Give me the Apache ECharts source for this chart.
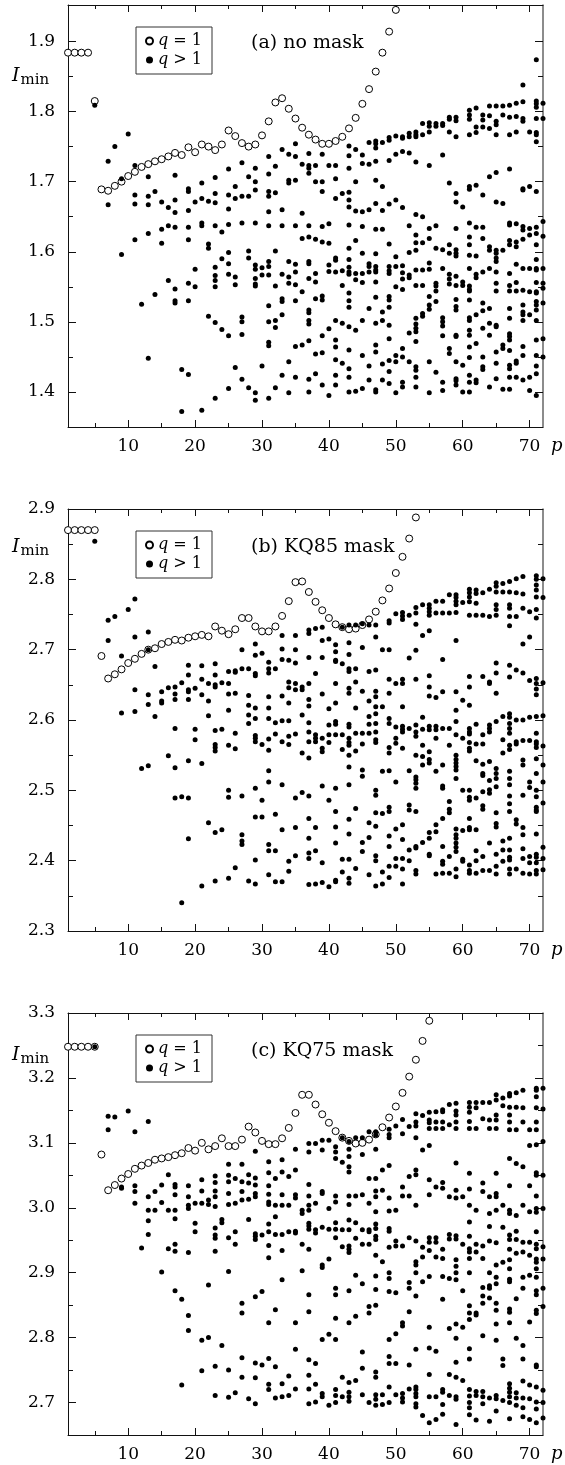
<!DOCTYPE html>
<html>
<head>
<meta charset="utf-8">
<script src="https://cdn.jsdelivr.net/npm/echarts@6.0.0/dist/echarts.min.js"></script>
<style>
html,body{margin:0;padding:0;background:#fff;}
#chart{width:565px;height:1465px;}
</style>
</head>
<body>
<div id="chart"></div>
<script>
// ---------------- data ----------------
const xMajorTicks = [10, 20, 30, 40, 50, 60, 70];
const xMinorTicks = [5, 15, 25, 35, 45, 55, 65];
const yMajorA = [1.4, 1.5, 1.6, 1.7, 1.8, 1.9];
const yMinorA = [1.45, 1.55, 1.65, 1.75, 1.85];
const yMajorB = [2.3, 2.4, 2.5, 2.6, 2.7, 2.8, 2.9];
const yMinorB = [2.35, 2.45, 2.55, 2.65, 2.75, 2.85];
const yMajorC = [2.7, 2.8, 2.9, 3.0, 3.1, 3.2, 3.3];
const yMinorC = [2.75, 2.85, 2.95, 3.05, 3.15, 3.25];
const panelTitles = ['(a) no mask', '(b) KQ85 mask', '(c) KQ75 mask'];
const seriesNames = ['q = 1', 'q > 1'];

// q = 1 values, p = 1, 2, 3, ...
const qOneA = [1.884,1.884,1.884,1.884,1.815,1.689,1.687,1.694,1.700,1.708,1.714,1.721,1.725,1.729,1.732,1.736,1.741,1.738,1.749,1.742,1.753,1.750,1.745,1.753,1.773,1.765,1.755,1.750,1.753,1.766,1.786,1.813,1.819,1.804,1.790,1.777,1.767,1.760,1.754,1.754,1.758,1.764,1.776,1.791,1.811,1.832,1.857,1.884,1.914,1.945];
const qOneB = [2.870,2.870,2.870,2.870,2.870,2.691,2.659,2.665,2.672,2.681,2.687,2.694,2.700,2.702,2.708,2.711,2.714,2.713,2.717,2.719,2.721,2.719,2.733,2.727,2.722,2.729,2.745,2.745,2.733,2.726,2.726,2.733,2.748,2.769,2.796,2.797,2.782,2.768,2.756,2.745,2.736,2.732,2.729,2.730,2.735,2.743,2.754,2.770,2.787,2.809,2.832,2.858,2.888];
const qOneC = [3.248,3.248,3.248,3.248,3.248,3.082,3.027,3.035,3.045,3.052,3.060,3.065,3.069,3.074,3.076,3.078,3.081,3.084,3.092,3.088,3.100,3.090,3.095,3.107,3.095,3.095,3.105,3.125,3.116,3.103,3.098,3.098,3.107,3.123,3.146,3.174,3.174,3.159,3.144,3.131,3.118,3.108,3.103,3.099,3.100,3.105,3.113,3.124,3.139,3.156,3.177,3.202,3.228,3.257,3.288];

// q > 1 values: [p, [I_min values]]
const multiA = [
[5,[1.809]],[7,[1.729,1.667]],[8,[1.750]],[9,[1.704,1.596]],[10,[1.768]],
[11,[1.723,1.681,1.668,1.617]],[12,[1.525]],[13,[1.707,1.679,1.667,1.626,1.448]],[14,[1.686,1.539]],
[15,[1.671,1.632,1.612]],[16,[1.663,1.637,1.559]],[17,[1.709,1.674,1.656,1.635,1.547,1.530,1.527]],
[18,[1.432,1.372]],[19,[1.690,1.686,1.659,1.635,1.617,1.555,1.530,1.425]],[20,[1.671,1.575,1.550]],
[21,[1.698,1.676,1.641,1.637,1.374]],[22,[1.672,1.611,1.605,1.508]],
[23,[1.706,1.683,1.670,1.637,1.578,1.566,1.559,1.550,1.499,1.391]],[24,[1.628,1.590,1.489]],
[25,[1.718,1.681,1.661,1.639,1.599,1.583,1.568,1.480,1.405]],[26,[1.693,1.676,1.564,1.553,1.435]],
[27,[1.727,1.679,1.641,1.507,1.500,1.482,1.418]],[28,[1.707,1.679,1.601,1.591,1.406]],
[29,[1.719,1.700,1.688,1.641,1.581,1.575,1.562,1.554,1.551,1.399,1.388]],[30,[1.577,1.567,1.437]],
[31,[1.736,1.711,1.686,1.679,1.657,1.637,1.586,1.579,1.567,1.523,1.500,1.471,1.466,1.391]],
[32,[1.722,1.684,1.601,1.551,1.502,1.492,1.406]],
[33,[1.746,1.660,1.637,1.568,1.533,1.529,1.510,1.424]],
[34,[1.739,1.702,1.698,1.586,1.564,1.555,1.443,1.399]],
[35,[1.754,1.736,1.702,1.637,1.582,1.571,1.553,1.530,1.465,1.421]],
[36,[1.725,1.655,1.619,1.543,1.467]],
[37,[1.740,1.723,1.719,1.712,1.637,1.621,1.586,1.583,1.562,1.517,1.513,1.502,1.497,1.473,1.418,1.400]],
[38,[1.723,1.700,1.618,1.569,1.557,1.533,1.454,1.426]],
[39,[1.739,1.700,1.686,1.636,1.614,1.537,1.531,1.480,1.456,1.410]],
[40,[1.723,1.640,1.612,1.581,1.572,1.490,1.395]],
[41,[1.723,1.704,1.676,1.591,1.588,1.571,1.502,1.474,1.464,1.446,1.424,1.410]],
[42,[1.683,1.573,1.552,1.498,1.441]],
[43,[1.751,1.737,1.719,1.685,1.674,1.664,1.638,1.605,1.589,1.578,1.571,1.568,1.541,1.530,1.521,1.493,1.460,1.433,1.421,1.400]],
[44,[1.746,1.700,1.658,1.616,1.569,1.560,1.488,1.401]],
[45,[1.738,1.726,1.657,1.636,1.598,1.569,1.556,1.502,1.452,1.405]],
[46,[1.756,1.725,1.660,1.583,1.579,1.571,1.519,1.437,1.417]],
[47,[1.758,1.754,1.748,1.729,1.702,1.669,1.632,1.597,1.579,1.574,1.571,1.557,1.535,1.498,1.467,1.457,1.403,1.400]],
[48,[1.756,1.693,1.659,1.632,1.514,1.502,1.440,1.417]],
[49,[1.763,1.759,1.730,1.668,1.611,1.579,1.573,1.569,1.536,1.531,1.521,1.495,1.476,1.445,1.429,1.412]],
[50,[1.765,1.739,1.674,1.593,1.579,1.550,1.452,1.443,1.399]],
[51,[1.764,1.762,1.743,1.663,1.580,1.570,1.561,1.546,1.462,1.450,1.414,1.407]],
[52,[1.769,1.764,1.741,1.637,1.599,1.567,1.563,1.484,1.443]],
[53,[1.771,1.767,1.764,1.728,1.653,1.624,1.613,1.602,1.574,1.552,1.505,1.497,1.491,1.486,1.472,1.436,1.431,1.421,1.407]],
[54,[1.783,1.767,1.650,1.613,1.574,1.552,1.512,1.508]],
[55,[1.784,1.779,1.771,1.723,1.633,1.619,1.584,1.575,1.536,1.524,1.518,1.443,1.399]],
[56,[1.783,1.779,1.637,1.605,1.555,1.551,1.544,1.529,1.428]],
[57,[1.783,1.780,1.738,1.603,1.576,1.506,1.500,1.494,1.480,1.414,1.402]],
[58,[1.792,1.789,1.771,1.698,1.610,1.598,1.568,1.561,1.554,1.462,1.455]],
[59,[1.792,1.787,1.764,1.683,1.671,1.633,1.603,1.598,1.594,1.565,1.552,1.532,1.522,1.517,1.481,1.479,1.443,1.419,1.416,1.410]],
[60,[1.664,1.557,1.552,1.438,1.400]],
[61,[1.802,1.795,1.789,1.767,1.693,1.689,1.641,1.621,1.610,1.595,1.576,1.551,1.546,1.544,1.531,1.506,1.502,1.488,1.481,1.464,1.449,1.424,1.414,1.400]],
[62,[1.805,1.778,1.770,1.695,1.635,1.594,1.568,1.563,1.510,1.469,1.417,1.413]],
[63,[1.795,1.788,1.778,1.681,1.635,1.619,1.571,1.527,1.516,1.491,1.450,1.436,1.432]],
[64,[1.808,1.794,1.776,1.707,1.607,1.602,1.576,1.519,1.498,1.481,1.407]],
[65,[1.808,1.786,1.781,1.767,1.713,1.671,1.602,1.598,1.591,1.586,1.571,1.555,1.544,1.495,1.493,1.457,1.441,1.419]],
[66,[1.808,1.795,1.669,1.602,1.467,1.462,1.404]],
[67,[1.809,1.792,1.767,1.718,1.641,1.638,1.616,1.610,1.569,1.552,1.544,1.519,1.505,1.483,1.479,1.474,1.459,1.438,1.433,1.421,1.404]],
[68,[1.812,1.793,1.771,1.640,1.614,1.607,1.582,1.556,1.544,1.444,1.441,1.421]],
[69,[1.838,1.814,1.790,1.786,1.690,1.688,1.636,1.631,1.618,1.576,1.545,1.524,1.514,1.510,1.502,1.465,1.452,1.417]],
[70,[1.771,1.693,1.633,1.624,1.576,1.543,1.510,1.421,1.402]],
[71,[1.874,1.815,1.811,1.806,1.790,1.770,1.767,1.757,1.686,1.635,1.626,1.610,1.589,1.576,1.574,1.556,1.543,1.541,1.529,1.524,1.517,1.502,1.474,1.452,1.437,1.426,1.395]],
[72,[1.812,1.790,1.643,1.622,1.576,1.555,1.548,1.527,1.476,1.450]]
];

const multiB = [
[5,[2.854]],[7,[2.742,2.713]],[8,[2.747]],[9,[2.691,2.610]],[10,[2.757]],
[11,[2.772,2.718,2.643,2.612]],[12,[2.531]],[13,[2.725,2.700,2.636,2.622,2.535]],[14,[2.676,2.605]],
[15,[2.640,2.627,2.624]],[16,[2.646,2.549]],[17,[2.647,2.637,2.629,2.588,2.532,2.489]],
[18,[2.653,2.491,2.340]],[19,[2.678,2.664,2.643,2.640,2.629,2.542,2.489,2.431]],[20,[2.645,2.587,2.572]],
[21,[2.677,2.658,2.636,2.538,2.364]],[22,[2.652,2.627,2.606,2.454]],
[23,[2.680,2.664,2.650,2.647,2.585,2.565,2.561,2.556,2.440,2.371]],[24,[2.653,2.587,2.444]],
[25,[2.669,2.652,2.637,2.614,2.564,2.500,2.490,2.375]],[26,[2.670,2.668,2.638,2.581,2.559,2.390]],
[27,[2.700,2.673,2.492,2.437,2.428,2.423]],[28,[2.673,2.635,2.621,2.607,2.595,2.371]],
[29,[2.708,2.692,2.666,2.663,2.617,2.602,2.578,2.574,2.569,2.503,2.462,2.401,2.367]],[30,[2.695,2.565,2.486,2.462]],
[31,[2.682,2.673,2.667,2.633,2.617,2.602,2.573,2.557,2.528,2.512,2.423,2.414,2.380]],
[32,[2.673,2.596,2.580,2.466,2.414,2.370]],
[33,[2.720,2.701,2.686,2.634,2.599,2.569,2.508,2.444,2.370]],
[34,[2.685,2.654,2.646,2.624,2.599,2.577,2.565,2.399,2.385]],
[35,[2.720,2.700,2.681,2.652,2.643,2.580,2.489,2.447,2.407]],
[36,[2.647,2.643,2.607,2.553,2.497]],
[37,[2.728,2.723,2.689,2.652,2.629,2.620,2.596,2.583,2.569,2.546,2.492,2.460,2.432,2.411,2.403,2.366]],
[38,[2.730,2.666,2.579,2.574,2.569,2.447,2.414,2.367]],
[39,[2.732,2.713,2.689,2.637,2.574,2.560,2.555,2.506,2.397,2.369]],
[40,[2.715,2.616,2.593,2.579,2.568,2.486,2.363]],
[41,[2.707,2.697,2.685,2.683,2.652,2.624,2.598,2.594,2.579,2.503,2.470,2.448,2.425,2.372,2.370]],
[42,[2.732,2.680,2.579,2.558,2.402,2.384]],
[43,[2.735,2.710,2.693,2.673,2.669,2.645,2.638,2.594,2.590,2.574,2.568,2.564,2.550,2.533,2.508,2.459,2.438,2.402,2.375,2.368]],
[44,[2.735,2.673,2.654,2.617,2.581,2.556,2.474,2.389]],
[45,[2.737,2.703,2.641,2.581,2.566,2.529,2.520,2.426,2.413]],
[46,[2.735,2.669,2.627,2.605,2.594,2.581,2.454,2.433,2.380]],
[47,[2.735,2.718,2.671,2.641,2.633,2.619,2.609,2.595,2.583,2.572,2.568,2.500,2.493,2.468,2.449,2.407,2.400,2.364]],
[48,[2.700,2.619,2.527,2.467,2.384,2.367]],
[49,[2.741,2.738,2.700,2.658,2.638,2.602,2.595,2.561,2.553,2.528,2.476,2.470,2.435,2.420,2.392,2.376]],
[50,[2.751,2.652,2.590,2.574,2.567,2.512,2.445,2.403,2.392]],
[51,[2.753,2.748,2.743,2.658,2.652,2.619,2.591,2.587,2.583,2.560,2.451,2.430,2.403,2.388,2.367]],
[52,[2.749,2.688,2.588,2.528,2.479,2.472,2.415,2.400]],
[53,[2.760,2.752,2.736,2.699,2.658,2.593,2.583,2.577,2.550,2.519,2.515,2.510,2.503,2.470,2.420,2.418,2.386,2.381]],
[54,[2.764,2.720,2.604,2.587,2.564,2.548,2.536,2.426]],
[55,[2.764,2.759,2.754,2.749,2.727,2.663,2.647,2.634,2.591,2.586,2.555,2.544,2.539,2.440,2.432,2.409,2.407]],
[56,[2.769,2.752,2.632,2.591,2.586,2.574,2.527,2.451,2.441,2.381]],
[57,[2.769,2.752,2.686,2.640,2.588,2.536,2.506,2.503,2.460,2.420,2.399,2.395,2.382]],
[58,[2.778,2.752,2.588,2.564,2.484,2.473,2.468,2.406,2.382]],
[59,[2.778,2.774,2.769,2.764,2.753,2.713,2.640,2.614,2.598,2.579,2.550,2.544,2.539,2.534,2.529,2.517,2.445,2.437,2.432,2.425,2.419,2.413,2.388,2.377]],
[60,[2.767,2.628,2.574,2.500,2.443,2.402,2.399]],
[61,[2.786,2.781,2.775,2.768,2.749,2.662,2.647,2.621,2.588,2.583,2.580,2.568,2.560,2.556,2.500,2.490,2.486,2.460,2.447,2.444,2.394,2.386,2.382]],
[62,[2.785,2.780,2.766,2.749,2.594,2.566,2.542,2.489,2.444,2.414,2.400,2.382]],
[63,[2.781,2.749,2.662,2.579,2.566,2.537,2.524,2.521,2.498,2.478,2.473,2.406,2.386]],
[64,[2.786,2.747,2.654,2.652,2.593,2.588,2.583,2.541,2.514,2.501,2.496,2.425,2.386]],
[65,[2.795,2.790,2.782,2.764,2.757,2.749,2.681,2.667,2.638,2.598,2.531,2.524,2.517,2.505,2.468,2.453,2.448,2.409,2.392,2.381]],
[66,[2.794,2.782,2.605,2.572,2.553,2.428,2.415,2.399]],
[67,[2.797,2.782,2.764,2.759,2.747,2.734,2.678,2.661,2.609,2.604,2.595,2.588,2.581,2.564,2.558,2.527,2.517,2.508,2.492,2.481,2.470,2.432,2.415,2.405,2.401,2.388,2.381]],
[68,[2.801,2.781,2.747,2.671,2.600,2.569,2.566,2.458,2.452,2.388]],
[69,[2.804,2.779,2.759,2.708,2.667,2.600,2.571,2.543,2.536,2.493,2.447,2.437,2.417,2.403,2.382]],
[70,[2.754,2.718,2.656,2.604,2.571,2.512,2.504,2.406,2.397,2.381]],
[71,[2.805,2.800,2.792,2.785,2.775,2.757,2.745,2.659,2.652,2.644,2.636,2.605,2.581,2.569,2.566,2.561,2.545,2.524,2.500,2.491,2.476,2.472,2.470,2.438,2.409,2.405,2.397,2.386,2.381]],
[72,[2.801,2.774,2.653,2.606,2.563,2.536,2.512,2.482,2.419,2.403,2.387]]
];

const multiC = [
[5,[3.248]],[7,[3.141,3.120]],[8,[3.140]],[9,[3.032,3.030]],[10,[3.149]],
[11,[3.117,3.034,3.025,3.007]],[12,[2.938]],[13,[3.133,3.017,2.996,2.980,2.959]],[14,[3.025,2.996]],
[15,[3.035,3.008,2.901]],[16,[3.051,2.996,2.937]],[17,[3.036,3.032,3.020,2.996,2.983,2.944,2.933,2.872]],
[18,[2.859,2.727]],[19,[3.034,3.017,3.004,2.999,2.931,2.834,2.811]],[20,[3.007,2.976,2.963]],
[21,[3.043,3.026,3.007,2.796,2.749]],[22,[3.012,3.005,2.881,2.800]],
[23,[3.049,3.039,3.026,3.017,3.002,2.969,2.958,2.953,2.933,2.756,2.711]],[24,[2.982,2.977,2.788]],
[25,[3.067,3.050,3.040,3.022,3.005,2.954,2.902,2.750,2.708]],[26,[3.045,3.007,2.963,2.944,2.715]],
[27,[3.067,3.040,3.025,3.012,2.853,2.838,2.769,2.739]],[28,[3.051,3.038,3.013,2.982,2.706]],
[29,[3.087,3.046,3.035,3.022,3.017,2.960,2.956,2.951,2.863,2.761,2.738,2.698]],[30,[2.958,2.871,2.758]],
[31,[3.071,3.054,3.034,3.021,3.009,3.005,2.975,2.963,2.942,2.923,2.823,2.768,2.728,2.720]],
[32,[3.045,3.004,2.986,2.959,2.843,2.755,2.707]],
[33,[3.074,3.055,3.020,3.004,2.959,2.934,2.889,2.729,2.709]],
[34,[3.048,3.004,2.963,2.741,2.711]],
[35,[3.090,3.058,3.020,3.015,2.964,2.961,2.823,2.782,2.721]],
[36,[2.996,2.991,2.944,2.903]],
[37,[3.099,3.086,3.036,3.018,3.004,2.996,2.976,2.972,2.967,2.936,2.866,2.840,2.766,2.742,2.721,2.698]],
[38,[3.099,3.007,2.966,2.961,2.760,2.728,2.701]],
[39,[3.104,3.089,3.025,3.022,2.970,2.912,2.908,2.797,2.714,2.709]],
[40,[3.104,2.999,2.967,2.921,2.805,2.696]],
[41,[3.094,3.086,3.076,3.018,3.009,2.977,2.967,2.954,2.876,2.866,2.830,2.797,2.720,2.711,2.700]],
[42,[3.108,3.070,2.966,2.940,2.739,2.709]],
[43,[3.102,3.090,3.079,3.063,3.055,3.018,3.005,2.981,2.966,2.941,2.936,2.931,2.872,2.823,2.731,2.716,2.709,2.702]],
[44,[3.108,3.018,2.977,2.953,2.896,2.833,2.734]],
[45,[3.108,3.082,3.020,2.966,2.944,2.883,2.778,2.753,2.712]],
[46,[3.117,3.045,3.007,2.966,2.963,2.944,2.848,2.838,2.700]],
[47,[3.117,3.112,3.090,3.045,3.026,3.017,2.994,2.975,2.968,2.956,2.951,2.927,2.895,2.874,2.850,2.747,2.739,2.712,2.705,2.696]],
[48,[3.058,3.027,2.917,2.712,2.697]],
[49,[3.121,3.113,3.108,3.065,3.015,2.995,2.968,2.964,2.939,2.900,2.891,2.871,2.797,2.771,2.760,2.724,2.700]],
[50,[3.126,2.996,2.949,2.941,2.869,2.806,2.760,2.712]],
[51,[3.136,3.114,3.032,3.018,2.941,2.823,2.818,2.714,2.707,2.701]],
[52,[3.125,3.048,3.018,2.954,2.885,2.876,2.840,2.758,2.721]],
[53,[3.145,3.132,3.126,3.108,3.058,3.051,3.004,2.949,2.917,2.912,2.900,2.864,2.782,2.724,2.720,2.714,2.709,2.698,2.693]],
[54,[3.142,3.089,2.939,2.924,2.886,2.680]],
[55,[3.147,3.135,3.131,3.122,3.096,3.043,3.020,2.954,2.947,2.934,2.894,2.816,2.784,2.743,2.709,2.669]],
[56,[3.148,3.132,3.122,3.032,2.954,2.947,2.924,2.779,2.709,2.674]],
[57,[3.151,3.148,3.132,3.122,3.039,3.030,2.936,2.922,2.894,2.859,2.720,2.716,2.697,2.682]],
[58,[3.159,3.128,3.017,2.959,2.952,2.891,2.814,2.743,2.711]],
[59,[3.161,3.149,3.143,3.132,3.122,3.069,3.027,3.015,2.957,2.952,2.920,2.910,2.900,2.889,2.821,2.799,2.762,2.739,2.709,2.705,2.666]],
[60,[3.017,2.944,2.872,2.816,2.734]],
[61,[3.162,3.155,3.147,3.133,3.122,3.053,3.029,3.004,2.978,2.956,2.937,2.932,2.922,2.900,2.849,2.838,2.828,2.783,2.767,2.720,2.710,2.700,2.692,2.681]],
[62,[3.162,3.154,3.122,2.996,2.944,2.932,2.838,2.835,2.717,2.711,2.673]],
[63,[3.162,3.137,3.038,3.025,2.941,2.922,2.877,2.864,2.853,2.803,2.717,2.709,2.698]],
[64,[3.162,3.135,3.122,3.017,2.991,2.971,2.949,2.900,2.880,2.876,2.861,2.707,2.671]],
[65,[3.174,3.166,3.143,3.135,3.122,3.053,3.022,3.017,2.996,2.946,2.912,2.893,2.883,2.853,2.842,2.821,2.796,2.711,2.706,2.687]],
[66,[3.169,3.157,3.004,2.970,2.916,2.767,2.757,2.703]],
[67,[3.176,3.172,3.155,3.143,3.132,3.120,3.076,3.034,2.996,2.991,2.958,2.951,2.936,2.920,2.906,2.890,2.886,2.844,2.839,2.823,2.729,2.722,2.716,2.709,2.700,2.675]],
[68,[3.177,3.155,3.120,3.068,2.988,2.964,2.951,2.930,2.860,2.799,2.715,2.707,2.696]],
[69,[3.181,3.154,3.132,3.063,3.004,2.947,2.932,2.893,2.876,2.788,2.767,2.733,2.707,2.692,2.678]],
[70,[3.120,3.096,3.034,2.994,2.947,2.927,2.896,2.824,2.727,2.706,2.674]],
[71,[3.184,3.181,3.171,3.154,3.132,3.120,3.097,3.054,3.050,3.018,2.999,2.993,2.963,2.944,2.937,2.921,2.916,2.906,2.893,2.872,2.866,2.842,2.837,2.758,2.755,2.724,2.701,2.690,2.669]],
[72,[3.184,3.152,3.102,3.050,2.999,2.940,2.921,2.876,2.848,2.719,2.700,2.676]]
];

// ---------------- layout / build ----------------
const FONT = 'DejaVu Serif';
const panels = [
  {top: 5,    yMin: 1.35, yMax: 1.952, major: yMajorA, minor: yMinorA, qOne: qOneA, multi: multiA, title: panelTitles[0], iTop: 59},
  {top: 509,  yMin: 2.3,  yMax: 2.9,   major: yMajorB, minor: yMinorB, qOne: qOneB, multi: multiB, title: panelTitles[1], iTop: 530},
  {top: 1013, yMin: 2.65, yMax: 3.3,   major: yMajorC, minor: yMinorC, qOne: qOneC, multi: multiC, title: panelTitles[2], iTop: 1038}
];
const GH = 422, GL = 68, GW = 475;
const BLACK = '#111';

const option = {
  backgroundColor: '#fff',
  animation: false,
  grid: [], xAxis: [], yAxis: [], series: [], legend: [], title: []
};

panels.forEach((P, i) => {
  option.grid.push({left: GL, width: GW, top: P.top, height: GH});
  const xBase = {gridIndex: i, type: 'value', min: 1, max: 72, splitLine: {show: false}};
  const yBase = {gridIndex: i, type: 'value', min: P.yMin, max: P.yMax, splitLine: {show: false}};
  // x axes
  option.xAxis.push(Object.assign({}, xBase, {
    position: 'bottom',
    axisLine: {show: true, lineStyle: {color: BLACK, width: 1}},
    axisTick: {show: true, inside: true, length: 7, customValues: xMajorTicks, lineStyle: {color: BLACK}},
    axisLabel: {show: true, customValues: xMajorTicks, margin: 11, color: '#000', fontFamily: FONT, fontSize: 17},
    name: 'p', nameLocation: 'end', nameGap: 8,
    nameTextStyle: {fontFamily: FONT, fontStyle: 'italic', fontSize: 18, color: '#000', verticalAlign: 'top', padding: [10, 0, 0, 0]}
  }));
  option.xAxis.push(Object.assign({}, xBase, {
    position: 'bottom', axisLine: {show: false},
    axisTick: {show: true, inside: true, length: 4, customValues: xMinorTicks, lineStyle: {color: BLACK}},
    axisLabel: {show: false}
  }));
  option.xAxis.push(Object.assign({}, xBase, {
    position: 'top', axisLine: {show: true, lineStyle: {color: BLACK, width: 1}},
    axisTick: {show: true, inside: true, length: 7, customValues: xMajorTicks, lineStyle: {color: BLACK}},
    axisLabel: {show: false}
  }));
  option.xAxis.push(Object.assign({}, xBase, {
    position: 'top', axisLine: {show: false},
    axisTick: {show: true, inside: true, length: 4, customValues: xMinorTicks, lineStyle: {color: BLACK}},
    axisLabel: {show: false}
  }));
  // y axes
  option.yAxis.push(Object.assign({}, yBase, {
    position: 'left',
    axisLine: {show: true, lineStyle: {color: BLACK, width: 1}},
    axisTick: {show: true, inside: true, length: 8, customValues: P.major, lineStyle: {color: BLACK}},
    axisLabel: {show: true, customValues: P.major, margin: 13, color: '#000', fontFamily: FONT, fontSize: 17,
                formatter: v => Number(v).toFixed(1)}
  }));
  option.yAxis.push(Object.assign({}, yBase, {
    position: 'left', axisLine: {show: false},
    axisTick: {show: true, inside: true, length: 5, customValues: P.minor, lineStyle: {color: BLACK}},
    axisLabel: {show: false}
  }));
  option.yAxis.push(Object.assign({}, yBase, {
    position: 'right',
    axisLine: {show: true, lineStyle: {color: '#666', width: 1.5}},
    axisTick: {show: true, inside: true, length: 8, customValues: P.major, lineStyle: {color: BLACK}},
    axisLabel: {show: false}
  }));
  option.yAxis.push(Object.assign({}, yBase, {
    position: 'right', axisLine: {show: false},
    axisTick: {show: true, inside: true, length: 5, customValues: P.minor, lineStyle: {color: BLACK}},
    axisLabel: {show: false}
  }));
  const ax = 4 * i;
  option.series.push({
    type: 'scatter', name: seriesNames[0], xAxisIndex: ax, yAxisIndex: ax,
    data: P.qOne.map((v, k) => [k + 1, v]),
    symbol: 'circle', symbolSize: 7, clip: false, silent: true, z: 2,
    itemStyle: {color: '#fff', borderColor: '#000', borderWidth: 1, opacity: 1}
  });
  option.series.push({
    type: 'scatter', name: seriesNames[1], xAxisIndex: ax, yAxisIndex: ax,
    data: P.multi.flatMap(([p, vs]) => vs.map(v => [p, v])),
    symbol: 'circle', symbolSize: 5, clip: false, silent: true, z: 3,
    itemStyle: {color: '#000', opacity: 1}
  });
  option.legend.push({
    left: 136, top: P.top + 22, orient: 'vertical', selectedMode: false,
    data: [{name: seriesNames[0], icon: 'circle'}, {name: seriesNames[1], icon: 'circle'}],
    itemWidth: 7, itemHeight: 7, itemGap: 3,
    padding: [6, 10, 6, 9], borderColor: '#333', borderWidth: 1,
    formatter: n => n === seriesNames[0] ? '{i|q} = 1' : '{i|q} > 1',
    textStyle: {fontFamily: FONT, fontSize: 16, color: '#000', fontWeight: 'normal',
      rich: {i: {fontFamily: FONT, fontStyle: 'italic', fontSize: 16, color: '#000', fontWeight: 'normal'}}}
  });
  option.title.push({
    text: P.title, left: 246, top: P.top + 24,
    textStyle: {fontFamily: FONT, fontSize: 19, fontWeight: 'normal', color: '#000'}
  });
  option.title.push({
    text: '{I|I}{s|min}', left: 7, top: P.iTop,
    textStyle: {fontWeight: 'normal', rich: {
      I: {fontFamily: FONT, fontStyle: 'italic', fontWeight: 'normal', fontSize: 19, color: '#000'},
      s: {fontFamily: FONT, fontWeight: 'normal', fontSize: 15, color: '#000', padding: [9, 0, 0, 1]}
    }}
  });
});

const chart = echarts.init(document.getElementById('chart'), null, {renderer: 'canvas'});
chart.setOption(option);
</script>
</body>
</html>
